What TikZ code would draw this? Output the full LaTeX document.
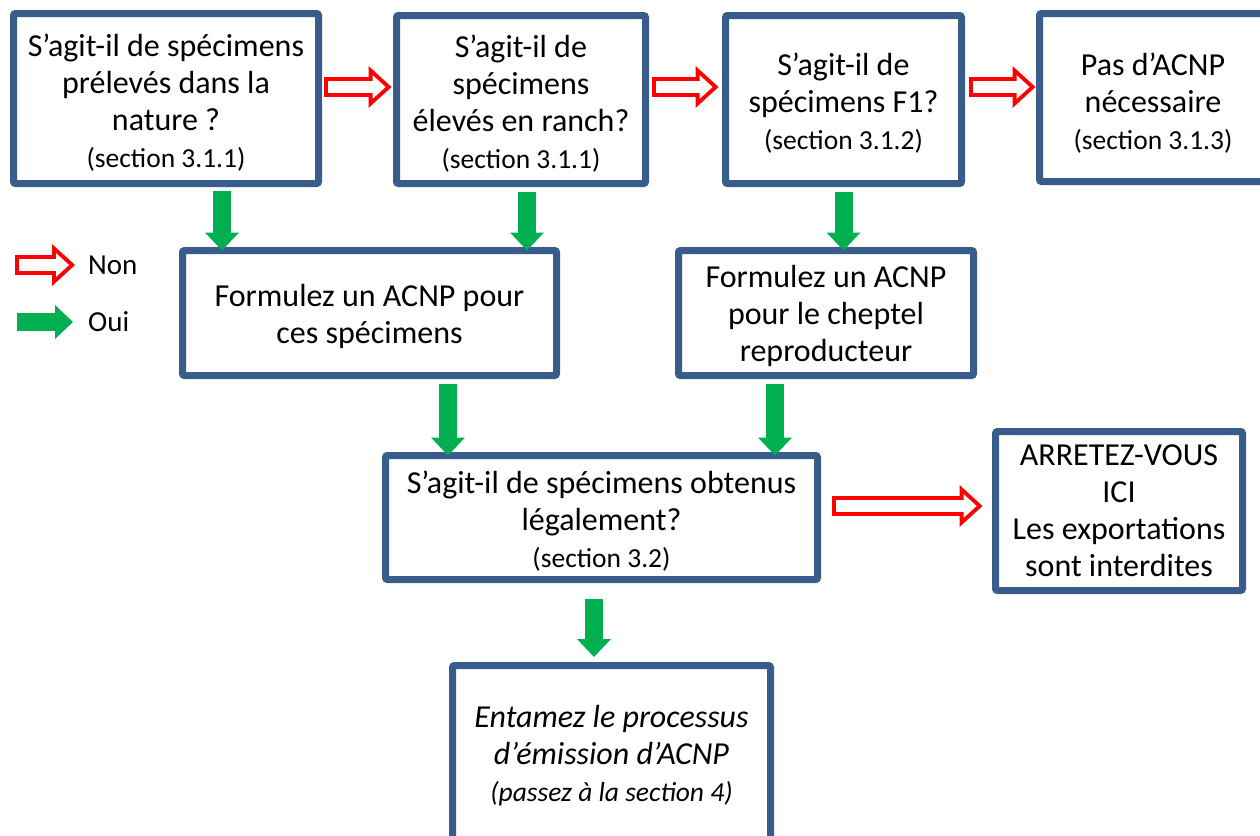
\documentclass[tikz,border=0pt]{standalone}
\usepackage{fontspec}
\setmainfont{Carlito}
\usepackage{tikz}
\usetikzlibrary{arrows.meta}

\definecolor{boxblue}{RGB}{56,93,138}
\definecolor{nonred}{RGB}{255,0,0}
\definecolor{ouigreen}{RGB}{0,176,80}
\newcommand{\mainsize}{\fontsize{32}{37}\selectfont}
\newcommand{\secsize}{\fontsize{27.5}{37}\selectfont}
\newcommand{\topstrut}[1]{\rule{0pt}{#1}}

\begin{document}
\begin{tikzpicture}[
    x=1pt, y=-1pt,
    font=\mainsize,
    qbox/.style={rectangle, rounded corners=2pt, draw=boxblue, line width=7pt, fill=white, align=center, inner sep=0pt, outer sep=0pt},
    legendtext/.style={anchor=west, inner sep=0pt, font=\fontsize{29}{35}\selectfont},
    nonarrow/.style={draw=nonred, line width=20pt, -{Triangle[width=42pt, length=23pt, line width=0pt]},
        postaction={draw=white, line width=12pt, -{Triangle[width=23.8pt, length=13.1pt, line width=0pt]}, shorten <=4pt, shorten >=5.9pt}},
    ouiarrow/.style={draw=ouigreen, line width=18pt, -{Triangle[width=34pt, length=18pt, line width=0pt]}}
]
\useasboundingbox (0,0) rectangle (1260,835);

% Top row: questions
\node[qbox, minimum width=305pt, minimum height=170pt] (q1) at (166, 98.5) {\topstrut{31pt}S’agit-il de spécimens\\prélevés dans la\\nature ?\\{\secsize (section 3.1.1)}};
\node[qbox, minimum width=249pt, minimum height=168pt] (q2) at (521, 99.5) {\topstrut{30pt}S’agit-il de\\spécimens\\élevés en ranch?\\{\secsize (section 3.1.1)}};
\node[qbox, minimum width=236pt, minimum height=168pt] (q3) at (843.5, 99.5) {\topstrut{30pt}S’agit-il de\\spécimens F1?\\{\secsize (section 3.1.2)}};
\node[qbox, minimum width=227pt, minimum height=168pt] (noacnp) at (1153, 97.5) {\topstrut{33pt}Pas d’ACNP\\nécessaire\\{\secsize (section 3.1.3)}};

% Middle row: ACNP
\node[qbox, minimum width=374pt, minimum height=125pt] (acnp1) at (369.5, 313) {\topstrut{29pt}Formulez un ACNP pour\\ces spécimens};
\node[qbox, minimum width=295pt, minimum height=125pt] (acnp2) at (826, 313) {\topstrut{29pt}Formulez un ACNP\\pour le cheptel\\reproducteur};

% Legality check and outcomes
\node[qbox, minimum width=432pt, minimum height=124pt] (legal) at (601.5, 517.5) {\topstrut{30pt}S’agit-il de spécimens obtenus\\légalement?\\{\secsize (section 3.2)}};
\node[qbox, minimum width=247pt, minimum height=159pt] (stop) at (1119, 511) {ARRETEZ-VOUS\\ICI\\Les exportations\\sont interdites};
\node[qbox, minimum width=318pt, minimum height=177pt, font=\mainsize\itshape] (start) at (611.5, 754) {\topstrut{25pt}Entamez le processus\\d’émission d’ACNP\\{\secsize (passez à la section 4)}};

% Legend
\node[legendtext] (lnon) at (88, 265) {Non};
\node[legendtext] (loui) at (88, 322) {Oui};
\draw[nonarrow] ([xshift=-73pt]lnon.west) -- ([xshift=-13pt]lnon.west);
\draw[ouiarrow] ([xshift=-71pt]loui.west) -- ([xshift=-15pt]loui.west);

% Non connectors
\draw[nonarrow] ([shift={(5,-11.5)}]q1.east) -- ([shift={(-5,-12.5)}]q2.west);
\draw[nonarrow] ([shift={(6,-12.5)}]q2.east) -- ([shift={(-7,-12.5)}]q3.west);
\draw[nonarrow] ([shift={(7,-12.5)}]q3.east) -- ([shift={(-4,-10.5)}]noacnp.west);
\draw[nonarrow] ([shift={(14,-11.5)}]legal.east) -- ([shift={(-13,-5)}]stop.west);

% Oui connectors
\draw[ouiarrow] ([shift={(56,7)}]q1.south) -- ([shift={(56,0)}]q1.south |- acnp1.north);
\draw[ouiarrow] ([shift={(6,8)}]q2.south) -- ([shift={(6,0)}]q2.south |- acnp1.north);
\draw[ouiarrow] ([shift={(0,8)}]q3.south) -- (q3.south |- acnp2.north);
\draw[ouiarrow] ([shift={(78.5,8)}]acnp1.south) -- ([shift={(78.5,0)}]acnp1.south |- legal.north);
\draw[ouiarrow] ([shift={(-51,8)}]acnp2.south) -- ([shift={(-51,0)}]acnp2.south |- legal.north);
\draw[ouiarrow] ([shift={(-7.5,19)}]legal.south) -- ([shift={(-17.5,-8.5)}]start.north);

\end{tikzpicture}
\end{document}
